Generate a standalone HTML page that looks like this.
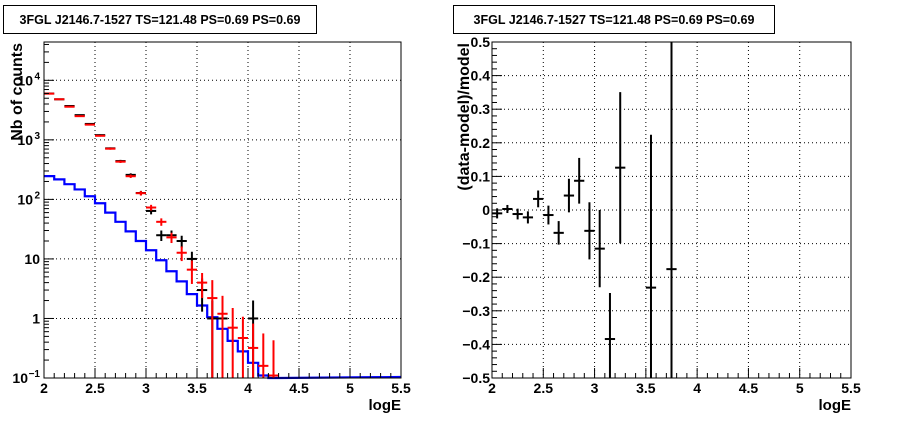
<!DOCTYPE html>
<html><head><meta charset="utf-8">
<style>
html,body{margin:0;padding:0;background:#fff;}
svg{display:block;font-family:"Liberation Sans",Arial,sans-serif;}
</style></head>
<body>
<svg id="c" width="898" height="421" viewBox="0 0 898 421" xmlns="http://www.w3.org/2000/svg">
<rect x="0" y="0" width="898" height="421" fill="#fff"/>
<g>
<rect x="3.5" y="5.5" width="313" height="28" fill="#fff" stroke="#000" stroke-width="1"/>
<text x="160" y="24" font-size="12.5" font-weight="bold" text-anchor="middle">3FGL J2146.7-1527 TS=121.48 PS=0.69 PS=0.69</text>
</g>
<g>
<rect x="453.5" y="5.5" width="321" height="28" fill="#fff" stroke="#000" stroke-width="1"/>
<text x="614" y="24" font-size="12.5" font-weight="bold" text-anchor="middle">3FGL J2146.7-1527 TS=121.48 PS=0.69 PS=0.69</text>
</g>
<g id="L"></g>
<g id="R"></g>
</svg>
<script>
// ---- data ----
const binCenters = [2.05,2.15,2.25,2.35,2.45,2.55,2.65,2.75,2.85,2.95,3.05,3.15,3.25,3.35,3.45,3.55,3.65,3.75,3.85,3.95,4.05,4.15,4.25];
const dataCounts = [6000,4800,3700,2600,1850,1200,720,440,258,128,64,25,25,20,10,3,1,1,0,0,1,0,0];
const dataErr    = [77,69,61,51,43,35,27,21,16,11,8,5,5,4.5,3.2,1.7,1,1,0,0,1,0,0];
const modelCounts= [5970,4800,3600,2500,1800,1170,710,430,245,127,73,42,23,12.7,6.6,4,2.2,1.2,0.7,0.47,0.32,0.16,0.11];
const modelErr   = [77,69,60,50,42,34,27,21,16,11,8,6,4.5,3.5,2.8,1.8,2.2,1.2,0.8,0.6,0.5,0.4,0.32];
const blueEdges  = [2.0,2.1,2.2,2.3,2.4,2.5,2.6,2.7,2.8,2.9,3.0,3.1,3.2,3.3,3.4,3.5,3.6,3.7,3.8,3.9,4.0,4.1,4.2];
const blueCounts = [246,217,180,147,113,86,60,42,29,20,14,9.5,6.2,4.2,2.56,1.65,1.05,0.67,0.42,0.28,0.18,0.11,0.1];
const resCenters = [2.05,2.15,2.25,2.35,2.45,2.55,2.65,2.75,2.85,2.95,3.05,3.15,3.25,3.55,3.75];
const resValues  = [-0.01,0.003,-0.012,-0.022,0.033,-0.015,-0.068,0.043,0.087,-0.062,-0.115,-0.384,0.126,-0.231,-0.176];
const resErr     = [0.015,0.012,0.016,0.018,0.025,0.028,0.035,0.05,0.068,0.085,0.115,0.137,0.225,0.455,1.2];
const xTicks = [2,2.5,3,3.5,4,4.5,5,5.5];
const xTickLabels = ["2","2.5","3","3.5","4","4.5","5","5.5"];
const resTicks = [0.5,0.4,0.3,0.2,0.1,0,-0.1,-0.2,-0.3,-0.4,-0.5];
const resTickLabels = ["0.5","0.4","0.3","0.2","0.1","0","\u22120.1","\u22120.2","\u22120.3","\u22120.4","\u22120.5"];
const logDecades = [-1,0,1,2,3,4];
const logTickLabels = ["10","1","10","10","10","10"];
const logTickSup = ["\u22121","","","2","3","4"];

const NS="http://www.w3.org/2000/svg";
function mk(parent,tag,attrs){const e=document.createElementNS(NS,tag);for(const k in attrs)e.setAttribute(k,attrs[k]);parent.appendChild(e);return e;}

// ---- left panel ----
const L=document.getElementById('L');


const lx0=44,lx1=401,ly0=42,ly1=378,xmin=2,xmax=5.5,lmin=-1,lmax=Math.log10(44000);
const lX=v=>lx0+(v-xmin)/(xmax-xmin)*(lx1-lx0);
const lY=v=>{const lv=Math.log10(Math.max(v,1e-9));return ly1-(lv-lmin)/(lmax-lmin)*(ly1-ly0);};
const clampY=y=>Math.min(ly1,Math.max(ly0,y));
// grid
xTicks.forEach((t,i)=>{if(i>0&&i<xTicks.length-1){const g=mk(L,'line',{x1:lX(t),x2:lX(t),y1:ly0,y2:ly1,stroke:'#000','stroke-width':1,'stroke-dasharray':'1,3'});}});
logDecades.forEach(d=>{if(d>lmin){const y=lY(Math.pow(10,d));const g=mk(L,'line',{x1:lx0,x2:lx1,y1:y,y2:y,stroke:'#000','stroke-width':1,'stroke-dasharray':'1,3'});}});
// blue model step
let dpath='';
blueEdges.forEach((e,i)=>{const y=lY(blueCounts[i]);const x0=lX(e),x1=lX(e+0.1);dpath+=(i===0?'M':'L')+x0+','+y+' L'+x1+','+y+' ';});
dpath+='L'+lX(5.5)+','+(ly1-1);
const bl=mk(L,'path',{d:dpath,fill:'none',stroke:'#0000ff','stroke-width':2.2});


function cross(parent,xc,v,err,color,name){
  if(v<=0)return;
  const y=lY(v);
  const g=mk(parent,'g',{});
  
  
  mk(g,'line',{x1:lX(xc-0.05),x2:lX(xc+0.05),y1:y,y2:y,stroke:color,'stroke-width':2});
  const yt=clampY(lY(v+err));const yb=(v-err)<=0.1?ly1:clampY(lY(v-err));
  mk(g,'line',{x1:lX(xc),x2:lX(xc),y1:yt,y2:yb,stroke:color,'stroke-width':2});
}
binCenters.forEach((c,i)=>cross(L,c,dataCounts[i],dataErr[i],'#000','data-point'));
binCenters.forEach((c,i)=>cross(L,c,modelCounts[i],modelErr[i],'#ff0000','model-point'));
// frame
const lf=mk(L,'rect',{x:lx0,y:ly0,width:lx1-lx0,height:ly1-ly0,fill:'none',stroke:'#000','stroke-width':1});


// x ticks
for(let v=2;v<=5.501;v+=0.1){const major=Math.abs(v*2-Math.round(v*2))<1e-6;mk(L,'line',{x1:lX(v),x2:lX(v),y1:ly1,y2:ly1-(major?10:5),stroke:'#000','stroke-width':1});}
xTicks.forEach((t,i)=>{const tx=mk(L,'text',{x:lX(t),y:393,'font-size':14,'font-weight':'bold','text-anchor':'middle'});tx.textContent=xTickLabels[i];});
// y ticks log
for(let d=-1;d<=4;d++){for(let m=1;m<=9;m++){const v=m*Math.pow(10,d);const y=lY(v);if(y<ly0-0.5||y>ly1+0.5)continue;mk(L,'line',{x1:lx0,x2:lx0+(m===1?10:5),y1:y,y2:y,stroke:'#000','stroke-width':1});}}
logDecades.forEach((d,i)=>{const y=lY(Math.pow(10,d));const tx=mk(L,'text',{x:lx0-4,y:y+5,'font-size':14,'font-weight':'bold','text-anchor':'end'});
  
  if(logTickSup[i]){tx.setAttribute('x',lx0-4-(logTickSup[i].length>1?12:7));tx.textContent=logTickLabels[i];const s=mk(L,'text',{x:lx0-4,y:y-1,'font-size':10,'font-weight':'bold','text-anchor':'end'});s.textContent=logTickSup[i];}
  else tx.textContent=logTickLabels[i];});
const lyt=mk(L,'text',{x:0,y:0,'font-size':16,'font-weight':'bold','text-anchor':'end',transform:'translate(22,43) rotate(-90)'});
lyt.textContent='Nb of counts';


const lxt=mk(L,'text',{x:401,y:410,'font-size':15,'font-weight':'bold','text-anchor':'end'});
lxt.textContent='logE';



// ---- right panel ----
const R=document.getElementById('R');


const rx0=492,rx1=851,ry0=42,ry1=378,rmin=-0.5,rmax=0.5;
const rX=v=>rx0+(v-xmin)/(xmax-xmin)*(rx1-rx0);
const rY=v=>ry1-(v-rmin)/(rmax-rmin)*(ry1-ry0);
const rc=v=>Math.min(ry1,Math.max(ry0,v));
xTicks.forEach((t,i)=>{if(i>0&&i<xTicks.length-1){const g=mk(R,'line',{x1:rX(t),x2:rX(t),y1:ry0,y2:ry1,stroke:'#000','stroke-width':1,'stroke-dasharray':'1,3'});}});
resTicks.forEach((t,i)=>{if(i>0&&i<resTicks.length-1){const y=rY(t);const g=mk(R,'line',{x1:rx0,x2:rx1,y1:y,y2:y,stroke:'#000','stroke-width':1,'stroke-dasharray':'1,3'});}});
resCenters.forEach((c,i)=>{
  const v=resValues[i],e=resErr[i];
  const g=mk(R,'g',{});
  
  
  const y=rY(v);
  mk(g,'line',{x1:rX(c-0.05),x2:rX(c+0.05),y1:y,y2:y,stroke:'#000','stroke-width':2});
  mk(g,'line',{x1:rX(c),x2:rX(c),y1:rc(rY(v+e)),y2:rc(rY(v-e)),stroke:'#000','stroke-width':2});
});
const rf=mk(R,'rect',{x:rx0,y:ry0,width:rx1-rx0,height:ry1-ry0,fill:'none',stroke:'#000','stroke-width':1});


for(let v=2;v<=5.501;v+=0.1){const major=Math.abs(v*2-Math.round(v*2))<1e-6;mk(R,'line',{x1:rX(v),x2:rX(v),y1:ry1,y2:ry1-(major?10:5),stroke:'#000','stroke-width':1});}
for(let k=0;k<=50;k++){const v=-0.5+k*0.02;const major=k%5===0;mk(R,'line',{x1:rx0,x2:rx0+(major?10:5),y1:rY(v),y2:rY(v),stroke:'#000','stroke-width':1});}
xTicks.forEach((t,i)=>{const tx=mk(R,'text',{x:rX(t),y:393,'font-size':14,'font-weight':'bold','text-anchor':'middle'});tx.textContent=xTickLabels[i];});
resTicks.forEach((t,i)=>{const tx=mk(R,'text',{x:rx0-2,y:rY(t)+5,'font-size':14,'font-weight':'bold','text-anchor':'end'});tx.textContent=resTickLabels[i];});
const ryt=mk(R,'text',{x:0,y:0,'font-size':16,'font-weight':'bold','text-anchor':'end',transform:'translate(469,43) rotate(-90)'});
ryt.textContent='(data-model)/model';


const rxt=mk(R,'text',{x:851,y:410,'font-size':15,'font-weight':'bold','text-anchor':'end'});
rxt.textContent='logE';


</script>
</body></html>
